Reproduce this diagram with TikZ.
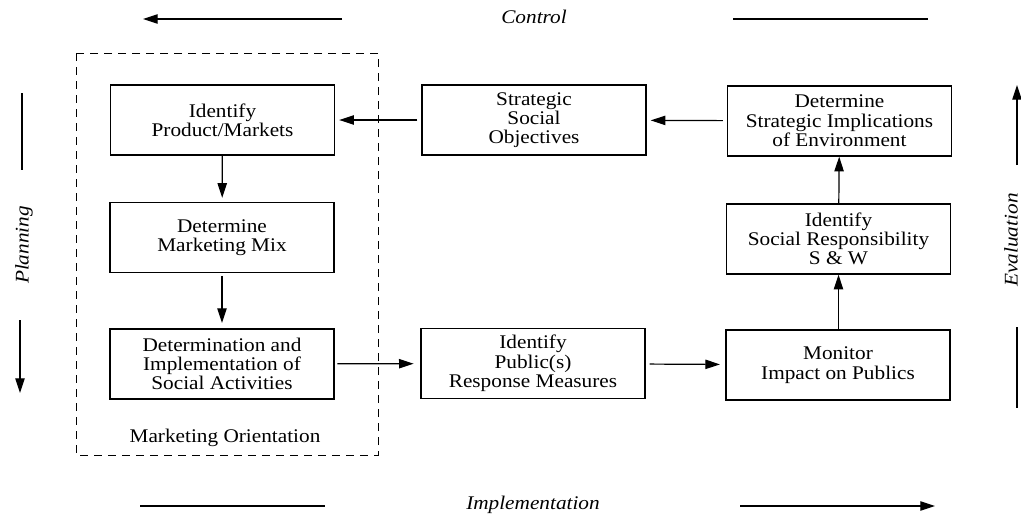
\documentclass[tikz,border=0pt]{standalone}
\usepackage{fontspec}
\setmainfont{Liberation Serif}[FakeStretch=1.1]
\usetikzlibrary{arrows.meta}
\begin{document}
\begin{tikzpicture}[x=0.75pt,y=-0.75pt,
  box/.style={draw,line width=1pt,minimum width=168pt,minimum height=52.5pt,inner sep=0pt,align=center,font=\fontsize{14.5}{14.5}\selectfont},
  flow/.style={line width=0.9pt,-{Triangle[length=11pt,width=7pt]}},
  side/.style={line width=0.9pt},
  sidearrow/.style={line width=0.9pt,-{Triangle[length=11pt,width=7pt]}},
  lab/.style={font=\fontsize{14.5}{14.5}\selectfont\itshape,inner sep=0pt}]
\useasboundingbox (0,0) rectangle (1021,514);
% dashed region
\draw[dashed,dash pattern=on 6pt off 4.5pt,line width=0.6pt] (76,53) rectangle (378,455);
\node[inner sep=0pt,font=\fontsize{14.5}{14.5}\selectfont] (mo) at (225,438) {Marketing Orientation};
% boxes
\node[box] (A) at (222.5,120) {Identify\\Product/Markets};
\node[box] (B) at (534,120) {Strategic\\Social\\Objectives};
\node[box] (C) at (839.5,121) {Determine\\Strategic Implications\\of Environment};
\node[box] (D) at (222,237.5) {Determine\\Marketing Mix};
\node[box] (E) at (838.5,239) {Identify\\Social Responsibility\\S \& W};
\node[box] (F) at (222,364) {Determination and\\Implementation of\\Social Activities};
\node[box] (G) at (533,363.5) {Identify\\Public(s)\\Response Measures};
\node[box] (H) at (838,365) {Monitor\\Impact on Publics};
% flows
\draw[flow,shorten <=3pt,shorten >=3pt] (B) -- (A);
\draw[flow,shorten <=3pt,shorten >=3pt] (C) -- (B);
\draw[flow,shorten >=3pt] (A) -- (D);
\draw[flow,shorten <=2pt,shorten >=4pt] (D) -- (F);
\draw[flow,shorten <=2pt,shorten >=5pt] (F) -- (G);
\draw[flow,shorten <=3pt,shorten >=4pt] (G) -- (H);
\draw[flow] (H.north -| E) -- (E);
\draw[flow] (E) -- (C);
% top: Control
\node[lab] (ctl) at (534,17) {Control};
\coordinate (c1) at (342,19); \coordinate (c2) at (143,19);
\coordinate (c3) at (733,19); \coordinate (c4) at (928,19);
\draw[sidearrow] (c1) -- (c2);
\draw[side] (c3) -- (c4);
% bottom: Implementation
\node[lab] (imp) at (533,505) {Implementation};
\coordinate (i1) at (140,506); \coordinate (i2) at (325,506);
\coordinate (i3) at (740,506); \coordinate (i4) at (935,506);
\draw[side] (i1) -- (i2);
\draw[sidearrow] (i3) -- (i4);
% left: Planning
\node[lab,rotate=90] (pl) at (24,245) {Planning};
\coordinate (p1) at (22,93); \coordinate (p2) at (22,170);
\coordinate (p3) at (20,320); \coordinate (p4) at (20,393);
\draw[side] (p1) -- (p2);
\draw[sidearrow] (p3) -- (p4);
% right: Evaluation
\node[lab,rotate=90] (ev) at (1011,240) {Evaluation};
\coordinate (e1) at (1017,165); \coordinate (e2) at (1017,85);
\coordinate (e3) at (1017,327); \coordinate (e4) at (1017,408);
\draw[sidearrow] (e1) -- (e2);
\draw[side] (e3) -- (e4);
\end{tikzpicture}
\end{document}
